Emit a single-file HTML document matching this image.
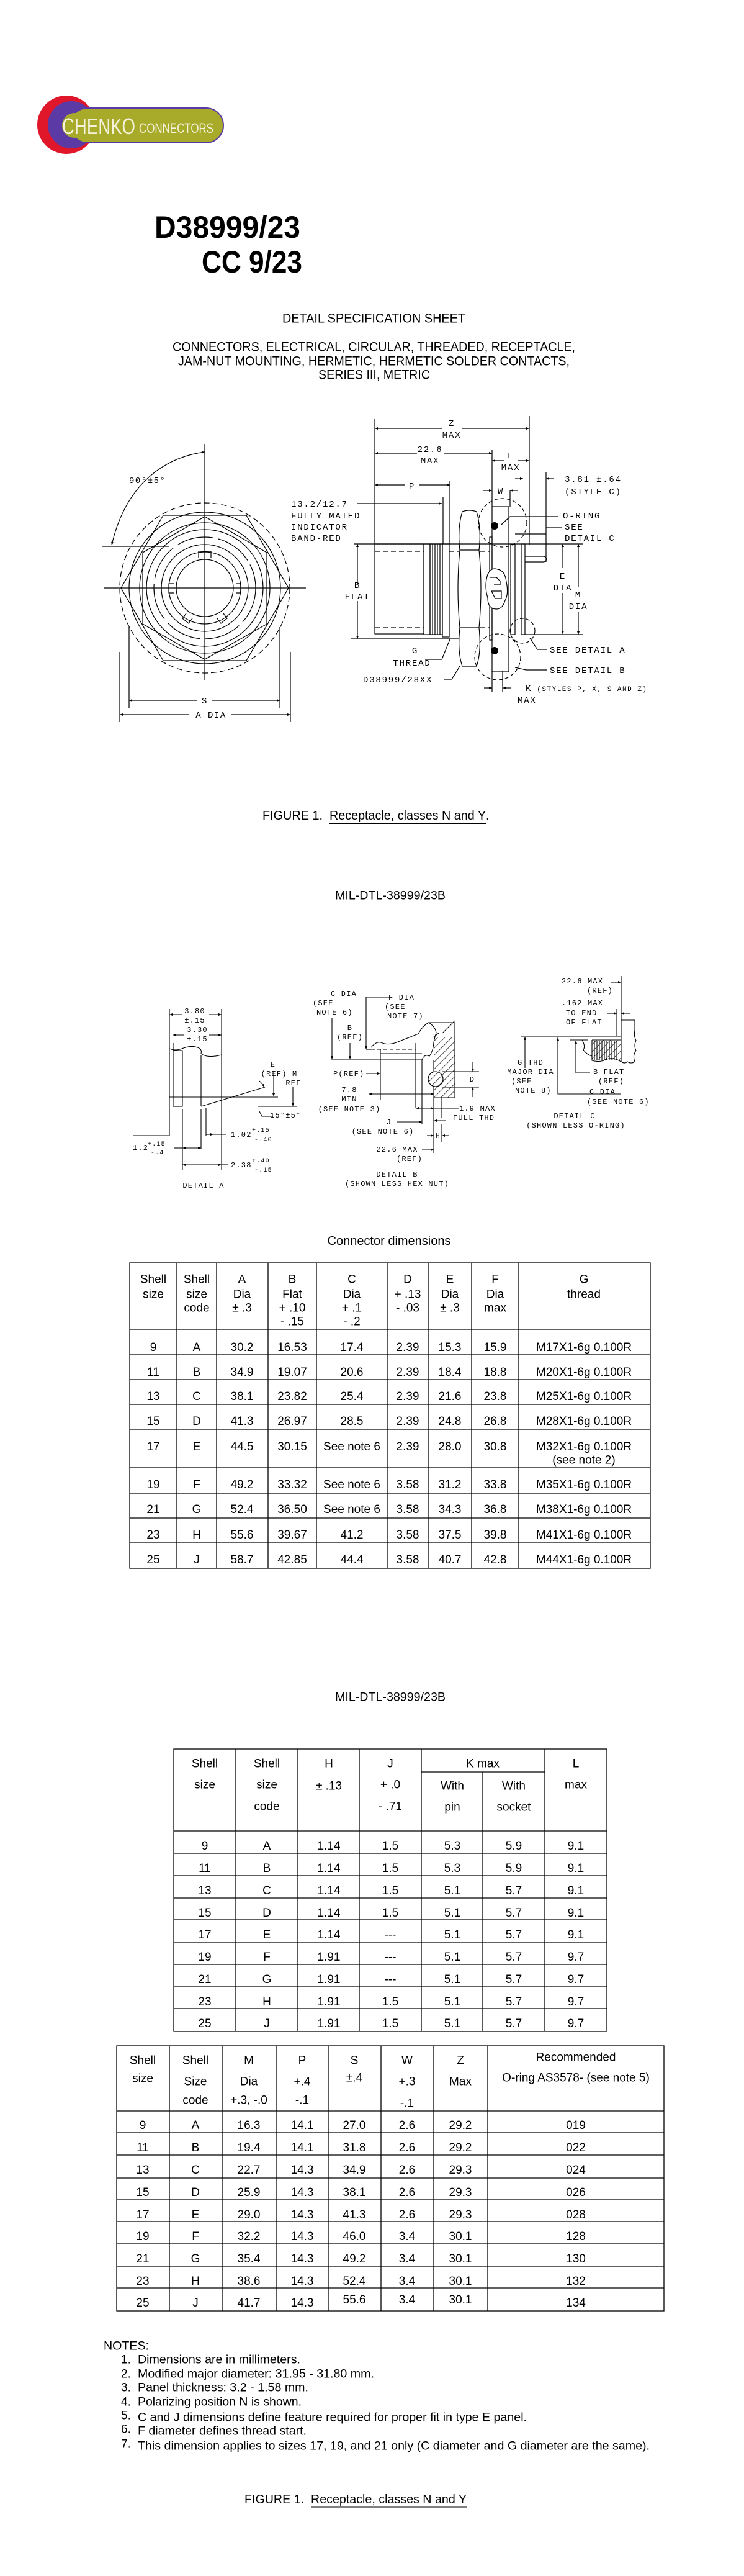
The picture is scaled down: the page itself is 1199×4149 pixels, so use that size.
<!DOCTYPE html>
<html><head><meta charset="utf-8"><style>
html,body{margin:0;padding:0;background:#fff;}
svg{display:block;}
.t{font-family:"Liberation Sans",sans-serif;fill:#000;}
.m{font-family:"Liberation Mono",monospace;fill:#000;}
</style></head><body>
<svg width="1199" height="4149" viewBox="0 0 1199 4149" xmlns="http://www.w3.org/2000/svg">
<defs>
<marker id="a" viewBox="0 0 10 10" refX="10" refY="5" markerWidth="9" markerHeight="5" orient="auto-start-reverse" markerUnits="userSpaceOnUse"><path d="M0,1 L10,5 L0,9z" fill="#000"/></marker>
<pattern id="h" width="8" height="8" patternUnits="userSpaceOnUse" patternTransform="rotate(45)"><line x1="0" y1="0" x2="0" y2="8" stroke="#000" stroke-width="1.4"/></pattern>
</defs>

<!-- LOGO -->
<circle cx="107" cy="201" r="47" fill="#e0162b"/>
<circle cx="115" cy="201" r="38" fill="#5b3aa6"/>
<rect x="113" y="174" width="247" height="56" rx="28" fill="#a8ab2a" stroke="#5b3aa6" stroke-width="2"/>
<circle cx="120" cy="202" r="20" fill="#a8ab2a"/>
<text class="t" x="100" y="216" font-size="36" fill="#f4f2dc" style="fill:#f4f2dc" textLength="118" lengthAdjust="spacingAndGlyphs">CHENKO</text>
<text class="t" x="224" y="214" font-size="22" style="fill:#f4f2dc" textLength="120" lengthAdjust="spacingAndGlyphs">CONNECTORS</text>

<!-- TITLES -->
<text class="t" x="249" y="366" dominant-baseline="central" font-size="50" font-weight="bold" textLength="235" lengthAdjust="spacingAndGlyphs">D38999/23</text>
<text class="t" x="325" y="422" dominant-baseline="central" font-size="50" font-weight="bold" textLength="162" lengthAdjust="spacingAndGlyphs">CC 9/23</text>
<text class="t" x="455" y="513" dominant-baseline="central" font-size="21" textLength="295" lengthAdjust="spacingAndGlyphs">DETAIL SPECIFICATION SHEET</text>
<text class="t" x="278" y="559" dominant-baseline="central" font-size="21" textLength="649" lengthAdjust="spacingAndGlyphs">CONNECTORS, ELECTRICAL, CIRCULAR, THREADED, RECEPTACLE,</text>
<text class="t" x="287" y="582" dominant-baseline="central" font-size="21" textLength="631" lengthAdjust="spacingAndGlyphs">JAM-NUT MOUNTING, HERMETIC, HERMETIC SOLDER CONTACTS,</text>
<text class="t" x="513" y="604" dominant-baseline="central" font-size="21" textLength="180" lengthAdjust="spacingAndGlyphs">SERIES III, METRIC</text>

<!-- FIGURE 1 LEFT VIEW -->
<g fill="none" stroke="#000" stroke-width="1.2">
<circle cx="330" cy="947" r="137" stroke-dasharray="9 5"/>
<circle cx="330" cy="947" r="122"/>
<polygon points="465,947 397,830 263,830 195,947 263,1064 397,1064"/>
<polygon points="330,832 430,890 430,1005 330,1062 230,1005 230,890"/>
<circle cx="330" cy="947" r="105"/>
<circle cx="330" cy="947" r="94"/>
<circle cx="330" cy="947" r="82" stroke-dasharray="60 8"/>
<circle cx="330" cy="947" r="70"/>
<circle cx="330" cy="947" r="58"/>
<circle cx="330" cy="947" r="46"/>
<path d="M320,898 v-10 h20 v10 M280,940 h-8 v15 h8 M380,940 h8 v15 h-8 M300,988 l-6,8 10,8 6,-8 M360,988 l6,8 -10,8 -6,-8"/>
<line x1="330" y1="715" x2="330" y2="1096"/>
<line x1="167" y1="947" x2="493" y2="947"/>
<line x1="165" y1="880" x2="272" y2="880"/>
<line x1="208" y1="1010" x2="208" y2="1140"/>
<line x1="451" y1="1010" x2="451" y2="1140"/>
<line x1="193" y1="1050" x2="193" y2="1163"/>
<line x1="468" y1="1050" x2="468" y2="1163"/>
<path d="M330,728 C255,738 200,790 180,878" marker-start="url(#a)" marker-end="url(#a)"/>
<line x1="208" y1="1128" x2="318" y2="1128" marker-start="url(#a)"/>
<line x1="342" y1="1128" x2="451" y2="1128" marker-end="url(#a)"/>
<line x1="193" y1="1151" x2="305" y2="1151" marker-start="url(#a)"/>
<line x1="372" y1="1151" x2="468" y2="1151" marker-end="url(#a)"/>
</g>
<g class="m" font-size="14" letter-spacing="1.5">
<text x="208" y="778" class="m">90°±5°</text>
<text x="330" y="1133" class="m" text-anchor="middle">S</text>
<text x="340" y="1156" class="m" text-anchor="middle">A DIA</text>
</g>

<!-- FIGURE 1 RIGHT VIEW -->
<g fill="none" stroke="#000" stroke-width="1.2">
<line x1="604" y1="675" x2="604" y2="876"/>
<line x1="853" y1="670" x2="853" y2="878"/>
<line x1="604" y1="690" x2="712" y2="690" marker-start="url(#a)"/>
<line x1="745" y1="690" x2="853" y2="690" marker-end="url(#a)"/>
<line x1="604" y1="730" x2="672" y2="730" marker-start="url(#a)"/>
<line x1="716" y1="730" x2="793" y2="730" marker-end="url(#a)"/>
<line x1="793" y1="725" x2="793" y2="816"/>
<line x1="793" y1="742" x2="812" y2="742" marker-start="url(#a)"/>
<line x1="834" y1="742" x2="853" y2="742" marker-end="url(#a)"/>
<line x1="830" y1="771" x2="843" y2="771" marker-end="url(#a)"/>
<line x1="893" y1="771" x2="880" y2="771" marker-end="url(#a)"/>
<line x1="880" y1="760" x2="880" y2="905"/>
<line x1="604" y1="781" x2="652" y2="781" marker-start="url(#a)"/>
<line x1="676" y1="781" x2="725" y2="781" marker-end="url(#a)"/>
<line x1="725" y1="775" x2="725" y2="876"/>
<line x1="714" y1="800" x2="714" y2="876"/>
<line x1="778" y1="790" x2="793" y2="790" marker-end="url(#a)"/>
<line x1="835" y1="790" x2="822" y2="790" marker-end="url(#a)"/>
<line x1="822" y1="790" x2="822" y2="816"/>
<line x1="575" y1="811" x2="604" y2="811"/>
<line x1="604" y1="811" x2="712" y2="811" marker-end="url(#a)"/>
<!-- body -->
<line x1="570" y1="876" x2="940" y2="876"/>
<line x1="566" y1="1029" x2="740" y2="1029"/>
<rect x="604" y="876" width="79" height="145"/>
<line x1="604" y1="888" x2="683" y2="888" stroke-dasharray="8 5"/>
<line x1="604" y1="1011" x2="683" y2="1011" stroke-dasharray="8 5"/>
<rect x="683" y="876" width="10" height="146"/>
<rect x="693" y="876" width="20" height="146"/>
<path d="M697,876v146M701,876v146M705,876v146M709,876v146"/>
<rect x="713" y="876" width="11" height="150"/>
<line x1="724" y1="888" x2="740" y2="888" stroke-dasharray="8 5"/>
<line x1="773" y1="888" x2="789" y2="888" stroke-dasharray="8 5"/>
<line x1="773" y1="1011" x2="789" y2="1011" stroke-dasharray="8 5"/>
<path d="M745,824 Q756,820 768,824 Q776,850 772,886 Q778,948 772,1011 Q776,1050 768,1073 L745,1073 Q737,1050 741,1011 Q735,948 741,886 Q737,850 745,824Z"/>
<line x1="741" y1="886" x2="772" y2="886"/>
<line x1="741" y1="1011" x2="772" y2="1011"/>
<rect x="789" y="865" width="4" height="166"/>
<rect x="793" y="816" width="27" height="266"/>
<rect x="823" y="877" width="7" height="145"/>
<rect x="840" y="876" width="6" height="146"/>
<path d="M846,896 h30 a4.5,4.5 0 0 1 0,9 h-30"/>
<path d="M786,925 q6,-12 16,-8 q12,2 14,20 q4,20 -2,30 q-4,14 -14,14 q-14,0 -14,-18 q-6,-20 0,-38z" fill="#fff"/>
<path d="M790,930 h10 l6,6 v6 h-10 M792,952 h16 v12 h-10 z"/>
<circle cx="810" cy="842" r="39" stroke-dasharray="6 4"/>
<circle cx="802" cy="1058" r="37" stroke-dasharray="6 4"/>
<circle cx="842" cy="1016" r="20" stroke-dasharray="6 4"/>
<line x1="576" y1="876" x2="576" y2="940" marker-start="url(#a)"/>
<line x1="576" y1="968" x2="576" y2="1029" marker-end="url(#a)"/>
<line x1="907" y1="876" x2="907" y2="915" marker-start="url(#a)"/>
<line x1="907" y1="955" x2="907" y2="1021" marker-end="url(#a)"/>
<line x1="932" y1="876" x2="932" y2="945" marker-start="url(#a)"/>
<line x1="932" y1="985" x2="932" y2="1022" marker-end="url(#a)"/>
<line x1="846" y1="1022" x2="940" y2="1022"/>
<line x1="830" y1="860" x2="880" y2="860"/>
<path d="M808,845 L822,832 H900"/>
<path d="M880,850 H905"/>
<path d="M854,1028 L866,1046 H882"/>
<path d="M830,1075 L848,1079 H882"/>
<path d="M725,1030 L712,1062 H685"/>
<path d="M741,1073 L728,1094 H715"/>
<line x1="793" y1="1081" x2="793" y2="1115"/>
<line x1="810" y1="1081" x2="810" y2="1115"/>
<line x1="780" y1="1108" x2="793" y2="1108" marker-end="url(#a)"/>
<line x1="824" y1="1108" x2="810" y2="1108" marker-end="url(#a)"/>
</g>
<circle cx="797" cy="847" r="6" fill="#000"/>
<circle cx="797" cy="1048" r="6" fill="#000"/>
<g class="m" font-size="14" letter-spacing="1.8">
<text class="m" x="728" y="686" text-anchor="middle">Z</text>
<text class="m" x="728" y="705" text-anchor="middle">MAX</text>
<text class="m" x="693" y="728" text-anchor="middle">22.6</text>
<text class="m" x="693" y="746" text-anchor="middle">MAX</text>
<text class="m" x="823" y="738" text-anchor="middle">L</text>
<text class="m" x="823" y="757" text-anchor="middle">MAX</text>
<text class="m" x="910" y="776">3.81 ±.64</text>
<text class="m" x="910" y="796">(STYLE C)</text>
<text class="m" x="664" y="787" text-anchor="middle">P</text>
<text class="m" x="807" y="795" text-anchor="middle">W</text>
<text class="m" x="469" y="816">13.2/12.7</text>
<text class="m" x="469" y="835">FULLY MATED</text>
<text class="m" x="469" y="853">INDICATOR</text>
<text class="m" x="469" y="871">BAND-RED</text>
<text class="m" x="907" y="835">O-RING</text>
<text class="m" x="910" y="853">SEE</text>
<text class="m" x="910" y="871">DETAIL C</text>
<text class="m" x="576" y="947" text-anchor="middle">B</text>
<text class="m" x="576" y="965" text-anchor="middle">FLAT</text>
<text class="m" x="907" y="932" text-anchor="middle">E</text>
<text class="m" x="907" y="951" text-anchor="middle">DIA</text>
<text class="m" x="932" y="962" text-anchor="middle">M</text>
<text class="m" x="932" y="981" text-anchor="middle">DIA</text>
<text class="m" x="669" y="1052" text-anchor="middle">G</text>
<text class="m" x="664" y="1072" text-anchor="middle">THREAD</text>
<text class="m" x="585" y="1099">D38999/28XX</text>
<text class="m" x="886" y="1051">SEE DETAIL A</text>
<text class="m" x="886" y="1084">SEE DETAIL B</text>
<text class="m" x="847" y="1113">K<tspan font-size="11" letter-spacing="1.5"> (STYLES P, X, S AND Z)</tspan></text>
<text class="m" x="834" y="1132">MAX</text>
</g>

<text class="t" x="423" y="1314" dominant-baseline="central" font-size="20" textLength="97" lengthAdjust="spacingAndGlyphs">FIGURE 1.</text>
<text class="t" x="531" y="1314" dominant-baseline="central" font-size="20" textLength="252" lengthAdjust="spacingAndGlyphs" text-decoration="underline">Receptacle, classes N and Y</text>
<text class="t" x="783" y="1314" dominant-baseline="central" font-size="20">.</text>
<line x1="531" y1="1326" x2="783" y2="1326" stroke="#000" stroke-width="1"/>

<text class="t" x="540" y="1443" dominant-baseline="central" font-size="19" textLength="178" lengthAdjust="spacingAndGlyphs">MIL-DTL-38999/23B</text>

<!-- DETAIL A -->
<g fill="none" stroke="#000" stroke-width="1.1">
<path d="M214,1829 H273 V1687"/>
<path d="M273,1689 q10,4 20,0 q15,-6 25,-2 q8,2 6,10 q10,8 33,2"/>
<rect x="279" y="1692" width="15" height="90"/>
<line x1="324" y1="1700" x2="324" y2="1782"/>
<line x1="324" y1="1786" x2="324" y2="1850"/>
<line x1="357" y1="1702" x2="357" y2="1884"/>
<line x1="332" y1="1784" x2="332" y2="1830"/>
<line x1="294" y1="1786" x2="294" y2="1884"/>
<line x1="273" y1="1767" x2="448" y2="1767"/>
<line x1="324" y1="1782" x2="427" y2="1751"/>
<line x1="416" y1="1782" x2="479" y2="1782"/>
<line x1="279" y1="1680" x2="279" y2="1692"/>
<line x1="273" y1="1625" x2="273" y2="1687"/>
<line x1="357" y1="1625" x2="357" y2="1702"/>
<line x1="273" y1="1634" x2="294" y2="1634" marker-start="url(#a)"/>
<line x1="337" y1="1634" x2="357" y2="1634" marker-end="url(#a)"/>
<line x1="279" y1="1667" x2="296" y2="1667" marker-start="url(#a)"/>
<line x1="337" y1="1667" x2="357" y2="1667" marker-end="url(#a)"/>
<line x1="441" y1="1725" x2="441" y2="1766" marker-end="url(#a)"/>
<line x1="472" y1="1750" x2="472" y2="1781" marker-end="url(#a)"/>
<path d="M418,1741 q6,6 8,10" marker-end="url(#a)"/>
<path d="M418,1790 L422,1798 H440"/>
<line x1="332" y1="1827" x2="344" y2="1827" marker-end="url(#a)"/>
<line x1="344" y1="1827" x2="365" y2="1827"/>
<line x1="280" y1="1849" x2="294" y2="1849"/>
<line x1="294" y1="1849" x2="324" y2="1849" marker-start="url(#a)" marker-end="url(#a)"/>
<line x1="294" y1="1876" x2="357" y2="1876" marker-start="url(#a)" marker-end="url(#a)"/>
<line x1="357" y1="1876" x2="368" y2="1876"/>
</g>
<g class="m" font-size="12" letter-spacing="1.2">
<text class="m" x="314" y="1632" text-anchor="middle">3.80</text>
<text class="m" x="314" y="1647" text-anchor="middle">±.15</text>
<text class="m" x="318" y="1662" text-anchor="middle">3.30</text>
<text class="m" x="318" y="1677" text-anchor="middle">±.15</text>
<text class="m" x="440" y="1718" text-anchor="middle">E</text>
<text class="m" x="450" y="1733" text-anchor="middle">(REF) M</text>
<text class="m" x="473" y="1748" text-anchor="middle">REF</text>
<text class="m" x="435" y="1800">15°±5°</text>
<text class="m" x="372" y="1831">1.02</text>
<text class="m" x="406" y="1823" font-size="10">+.15</text>
<text class="m" x="410" y="1838" font-size="10">-.40</text>
<text class="m" x="214" y="1852">1.2</text>
<text class="m" x="238" y="1845" font-size="10">+.15</text>
<text class="m" x="243" y="1859" font-size="10">-.4</text>
<text class="m" x="372" y="1880">2.38</text>
<text class="m" x="406" y="1872" font-size="10">+.40</text>
<text class="m" x="410" y="1887" font-size="10">-.15</text>
<text class="m" x="328" y="1913" text-anchor="middle">DETAIL A</text>
</g>

<!-- DETAIL B -->
<g fill="none" stroke="#000" stroke-width="1.1">
<line x1="534" y1="1707" x2="680" y2="1707"/>
<path d="M680,1707 q4,-10 12,-6 q6,-8 7,-22 q2,-10 4,-16 q-2,-10 -12,-16 L733,1647 V1768 H699 V1707"/>
<rect x="699" y="1670" width="34" height="98" fill="url(#h)" stroke="none"/>
<path d="M699,1670 l8,-6 M713,1664 l20,-20"/>
<path d="M598,1687 q8,-10 16,-8 q12,6 30,-2 q20,-8 30,-12 q8,-14 17,-18"/>
<line x1="598" y1="1690" x2="670" y2="1690" stroke-dasharray="6 4"/>
<line x1="613" y1="1697" x2="680" y2="1697"/>
<line x1="613" y1="1690" x2="613" y2="1772"/>
<line x1="670" y1="1680" x2="670" y2="1785"/>
<line x1="680" y1="1707" x2="680" y2="1810"/>
<line x1="699" y1="1768" x2="699" y2="1857"/>
<line x1="712" y1="1768" x2="712" y2="1800"/>
<circle cx="702" cy="1738" r="12" fill="#fff"/>
<circle cx="702" cy="1738" r="12" fill="url(#h)"/>
<path d="M712,1726 H772 M712,1751 H772"/>
<line x1="762" y1="1710" x2="762" y2="1726" marker-end="url(#a)"/>
<line x1="762" y1="1767" x2="762" y2="1751" marker-end="url(#a)"/>
<line x1="535" y1="1640" x2="535" y2="1706" marker-end="url(#a)"/>
<line x1="564" y1="1680" x2="564" y2="1706" marker-end="url(#a)"/>
<path d="M629,1606 H590 V1690" marker-end="url(#a)"/>
<line x1="590" y1="1690" x2="598" y2="1690"/>
<line x1="590" y1="1729" x2="613" y2="1729" marker-end="url(#a)"/>
<line x1="594" y1="1762" x2="613" y2="1762" marker-start="url(#a)"/>
<line x1="613" y1="1762" x2="699" y2="1762" marker-end="url(#a)"/>
<line x1="670" y1="1785" x2="699" y2="1785" marker-start="url(#a)" marker-end="url(#a)"/>
<line x1="699" y1="1785" x2="740" y2="1785"/>
<line x1="640" y1="1807" x2="680" y2="1807" marker-end="url(#a)"/>
<line x1="718" y1="1805" x2="699" y2="1805" marker-end="url(#a)"/>
<line x1="688" y1="1829" x2="699" y2="1829" marker-end="url(#a)"/>
<line x1="724" y1="1829" x2="712" y2="1829" marker-end="url(#a)"/>
<line x1="712" y1="1810" x2="712" y2="1840"/>
<line x1="680" y1="1852" x2="699" y2="1852" marker-end="url(#a)"/>
</g>
<g class="m" font-size="12" letter-spacing="1.2">
<text class="m" x="533" y="1604">C DIA</text>
<text class="m" x="504" y="1619">(SEE</text>
<text class="m" x="510" y="1634">NOTE 6)</text>
<text class="m" x="626" y="1610">F DIA</text>
<text class="m" x="620" y="1625">(SEE</text>
<text class="m" x="624" y="1640">NOTE 7)</text>
<text class="m" x="564" y="1659" text-anchor="middle">B</text>
<text class="m" x="564" y="1674" text-anchor="middle">(REF)</text>
<text class="m" x="537" y="1733">P(REF)</text>
<text class="m" x="563" y="1759" text-anchor="middle">7.8</text>
<text class="m" x="563" y="1774" text-anchor="middle">MIN</text>
<text class="m" x="563" y="1790" text-anchor="middle">(SEE NOTE 3)</text>
<text class="m" x="740" y="1789">1.9 MAX</text>
<text class="m" x="730" y="1804">FULL THD</text>
<text class="m" x="627" y="1811" text-anchor="middle">J</text>
<text class="m" x="617" y="1826" text-anchor="middle">(SEE NOTE 6)</text>
<text class="m" x="761" y="1742" text-anchor="middle">D</text>
<text class="m" x="706" y="1833" text-anchor="middle">H</text>
<text class="m" x="640" y="1855" text-anchor="middle">22.6 MAX</text>
<text class="m" x="660" y="1870" text-anchor="middle">(REF)</text>
<text class="m" x="640" y="1895" text-anchor="middle">DETAIL B</text>
<text class="m" x="640" y="1910" text-anchor="middle">(SHOWN LESS HEX NUT)</text>
</g>

<!-- DETAIL C -->
<g fill="none" stroke="#000" stroke-width="1.1">
<line x1="839" y1="1670" x2="1001" y2="1670"/>
<path d="M1001,1572 V1710 q6,4 10,0 q6,4 12,0 q-4,-10 2,-18 q-4,-8 0,-16 q-4,-8 -2,-16 V1643 H1001"/>
<rect x="954" y="1675" width="47" height="33" fill="url(#h)" stroke="none"/>
<path d="M954,1675 H1001 M954,1675 V1708 q12,4 24,-2 q10,-4 23,4"/>
<path d="M958,1676v32M962,1676v32M966,1676v32M970,1676v32M974,1676v32M978,1676v32M982,1676v32M986,1676v32M990,1676v32M994,1676v32"/>
<path d="M938,1675 q6,10 2,16 q6,8 14,10"/>
<line x1="918" y1="1675" x2="948" y2="1675"/>
<line x1="994" y1="1625" x2="994" y2="1668"/>
<line x1="978" y1="1632" x2="994" y2="1632" marker-end="url(#a)"/>
<line x1="1015" y1="1632" x2="1001" y2="1632" marker-end="url(#a)"/>
<line x1="985" y1="1582" x2="1001" y2="1582" marker-end="url(#a)"/>
<line x1="846" y1="1720" x2="846" y2="1670" marker-end="url(#a)"/>
<path d="M1000,1762 H899 V1671" marker-end="url(#a)"/>
<path d="M951,1728 H928 V1676" marker-end="url(#a)"/>
</g>
<g class="m" font-size="12" letter-spacing="1.2">
<text class="m" x="905" y="1584">22.6 MAX</text>
<text class="m" x="946" y="1599">(REF)</text>
<text class="m" x="905" y="1619">.162 MAX</text>
<text class="m" x="912" y="1635">TO END</text>
<text class="m" x="912" y="1650">OF FLAT</text>
<text class="m" x="855" y="1715" text-anchor="middle">G THD</text>
<text class="m" x="855" y="1730" text-anchor="middle">MAJOR DIA</text>
<text class="m" x="824" y="1745">(SEE</text>
<text class="m" x="830" y="1760">NOTE 8)</text>
<text class="m" x="956" y="1730">B FLAT</text>
<text class="m" x="964" y="1745">(REF)</text>
<text class="m" x="950" y="1762">C DIA</text>
<text class="m" x="946" y="1778">(SEE NOTE 6)</text>
<text class="m" x="926" y="1801" text-anchor="middle">DETAIL C</text>
<text class="m" x="928" y="1816" text-anchor="middle">(SHOWN LESS O-RING)</text>
</g>

<text class="t" x="627" y="1999" dominant-baseline="central" text-anchor="middle" font-size="20">Connector dimensions</text>

<!-- TABLE 1 -->
<g stroke="#000" stroke-width="1.3" fill="none">
<rect x="209" y="2034" width="839" height="492"/>
<path d="M285,2034V2526M349,2034V2526M432,2034V2526M510,2034V2526M624,2034V2526M691,2034V2526M760,2034V2526M835,2034V2526"/>
<path d="M209,2141H1048M209,2182H1048M209,2222H1048M209,2262H1048M209,2302H1048M209,2364H1048M209,2405H1048M209,2445H1048M209,2485H1048"/>
</g>
<g class="t" font-size="19" text-anchor="middle" dominant-baseline="central">
<text class="t" x="247" y="2061">Shell</text><text class="t" x="247" y="2085">size</text>
<text class="t" x="317" y="2061">Shell</text><text class="t" x="317" y="2085">size</text><text class="t" x="317" y="2107">code</text>
<text class="t" x="390" y="2061">A</text><text class="t" x="390" y="2085">Dia</text><text class="t" x="390" y="2107">± .3</text>
<text class="t" x="471" y="2061">B</text><text class="t" x="471" y="2085">Flat</text><text class="t" x="471" y="2107">+ .10</text><text class="t" x="471" y="2129">- .15</text>
<text class="t" x="567" y="2061">C</text><text class="t" x="567" y="2085">Dia</text><text class="t" x="567" y="2107">+ .1</text><text class="t" x="567" y="2129">- .2</text>
<text class="t" x="657" y="2061">D</text><text class="t" x="657" y="2085">+ .13</text><text class="t" x="657" y="2107">- .03</text>
<text class="t" x="725" y="2061">E</text><text class="t" x="725" y="2085">Dia</text><text class="t" x="725" y="2107">± .3</text>
<text class="t" x="798" y="2061">F</text><text class="t" x="798" y="2085">Dia</text><text class="t" x="798" y="2107">max</text>
<text class="t" x="941" y="2061">G</text><text class="t" x="941" y="2085">thread</text>
</g>
<g class="t" font-size="19" text-anchor="middle" dominant-baseline="central">
<text class="t" y="2170"><tspan x="247">9</tspan><tspan x="317">A</tspan><tspan x="390">30.2</tspan><tspan x="471">16.53</tspan><tspan x="567">17.4</tspan><tspan x="657">2.39</tspan><tspan x="725">15.3</tspan><tspan x="798">15.9</tspan><tspan x="941">M17X1-6g 0.100R</tspan></text>
<text class="t" y="2210"><tspan x="247">11</tspan><tspan x="317">B</tspan><tspan x="390">34.9</tspan><tspan x="471">19.07</tspan><tspan x="567">20.6</tspan><tspan x="657">2.39</tspan><tspan x="725">18.4</tspan><tspan x="798">18.8</tspan><tspan x="941">M20X1-6g 0.100R</tspan></text>
<text class="t" y="2249"><tspan x="247">13</tspan><tspan x="317">C</tspan><tspan x="390">38.1</tspan><tspan x="471">23.82</tspan><tspan x="567">25.4</tspan><tspan x="657">2.39</tspan><tspan x="725">21.6</tspan><tspan x="798">23.8</tspan><tspan x="941">M25X1-6g 0.100R</tspan></text>
<text class="t" y="2289"><tspan x="247">15</tspan><tspan x="317">D</tspan><tspan x="390">41.3</tspan><tspan x="471">26.97</tspan><tspan x="567">28.5</tspan><tspan x="657">2.39</tspan><tspan x="725">24.8</tspan><tspan x="798">26.8</tspan><tspan x="941">M28X1-6g 0.100R</tspan></text>
<text class="t" y="2330"><tspan x="247">17</tspan><tspan x="317">E</tspan><tspan x="390">44.5</tspan><tspan x="471">30.15</tspan><tspan x="567">See note 6</tspan><tspan x="657">2.39</tspan><tspan x="725">28.0</tspan><tspan x="798">30.8</tspan><tspan x="941">M32X1-6g 0.100R</tspan></text>
<text class="t" x="941" y="2352">(see note 2)</text>
<text class="t" y="2391"><tspan x="247">19</tspan><tspan x="317">F</tspan><tspan x="390">49.2</tspan><tspan x="471">33.32</tspan><tspan x="567">See note 6</tspan><tspan x="657">3.58</tspan><tspan x="725">31.2</tspan><tspan x="798">33.8</tspan><tspan x="941">M35X1-6g 0.100R</tspan></text>
<text class="t" y="2431"><tspan x="247">21</tspan><tspan x="317">G</tspan><tspan x="390">52.4</tspan><tspan x="471">36.50</tspan><tspan x="567">See note 6</tspan><tspan x="657">3.58</tspan><tspan x="725">34.3</tspan><tspan x="798">36.8</tspan><tspan x="941">M38X1-6g 0.100R</tspan></text>
<text class="t" y="2472"><tspan x="247">23</tspan><tspan x="317">H</tspan><tspan x="390">55.6</tspan><tspan x="471">39.67</tspan><tspan x="567">41.2</tspan><tspan x="657">3.58</tspan><tspan x="725">37.5</tspan><tspan x="798">39.8</tspan><tspan x="941">M41X1-6g 0.100R</tspan></text>
<text class="t" y="2512"><tspan x="247">25</tspan><tspan x="317">J</tspan><tspan x="390">58.7</tspan><tspan x="471">42.85</tspan><tspan x="567">44.4</tspan><tspan x="657">3.58</tspan><tspan x="725">40.7</tspan><tspan x="798">42.8</tspan><tspan x="941">M44X1-6g 0.100R</tspan></text>
</g>

<text class="t" x="540" y="2734" dominant-baseline="central" font-size="19" textLength="178" lengthAdjust="spacingAndGlyphs">MIL-DTL-38999/23B</text>

<!-- TABLE 2 -->
<g stroke="#000" stroke-width="1.3" fill="none">
<rect x="280" y="2817" width="698" height="455"/>
<path d="M380,2817V3272M480,2817V3272M579,2817V3272M679,2817V3272M778,2854V3272M878,2817V3272"/>
<path d="M679,2854H878M280,2949H978M280,2985H978M280,3021H978M280,3057H978M280,3092H978M280,3129H978M280,3164H978M280,3200H978M280,3235H978"/>
</g>
<g class="t" font-size="19" text-anchor="middle" dominant-baseline="central">
<text class="t" x="330" y="2841">Shell</text><text class="t" x="330" y="2875">size</text>
<text class="t" x="430" y="2841">Shell</text><text class="t" x="430" y="2875">size</text><text class="t" x="430" y="2910">code</text>
<text class="t" x="530" y="2841">H</text><text class="t" x="530" y="2877">± .13</text>
<text class="t" x="629" y="2841">J</text><text class="t" x="629" y="2875">+ .0</text><text class="t" x="629" y="2910">- .71</text>
<text class="t" x="778" y="2841">K max</text>
<text class="t" x="729" y="2877">With</text><text class="t" x="729" y="2911">pin</text>
<text class="t" x="828" y="2877">With</text><text class="t" x="828" y="2911">socket</text>
<text class="t" x="928" y="2841">L</text><text class="t" x="928" y="2875">max</text>
<text class="t" y="2973"><tspan x="330">9</tspan><tspan x="430">A</tspan><tspan x="530">1.14</tspan><tspan x="629">1.5</tspan><tspan x="729">5.3</tspan><tspan x="828">5.9</tspan><tspan x="928">9.1</tspan></text>
<text class="t" y="3009"><tspan x="330">11</tspan><tspan x="430">B</tspan><tspan x="530">1.14</tspan><tspan x="629">1.5</tspan><tspan x="729">5.3</tspan><tspan x="828">5.9</tspan><tspan x="928">9.1</tspan></text>
<text class="t" y="3045"><tspan x="330">13</tspan><tspan x="430">C</tspan><tspan x="530">1.14</tspan><tspan x="629">1.5</tspan><tspan x="729">5.1</tspan><tspan x="828">5.7</tspan><tspan x="928">9.1</tspan></text>
<text class="t" y="3081"><tspan x="330">15</tspan><tspan x="430">D</tspan><tspan x="530">1.14</tspan><tspan x="629">1.5</tspan><tspan x="729">5.1</tspan><tspan x="828">5.7</tspan><tspan x="928">9.1</tspan></text>
<text class="t" y="3116"><tspan x="330">17</tspan><tspan x="430">E</tspan><tspan x="530">1.14</tspan><tspan x="629">---</tspan><tspan x="729">5.1</tspan><tspan x="828">5.7</tspan><tspan x="928">9.1</tspan></text>
<text class="t" y="3152"><tspan x="330">19</tspan><tspan x="430">F</tspan><tspan x="530">1.91</tspan><tspan x="629">---</tspan><tspan x="729">5.1</tspan><tspan x="828">5.7</tspan><tspan x="928">9.7</tspan></text>
<text class="t" y="3188"><tspan x="330">21</tspan><tspan x="430">G</tspan><tspan x="530">1.91</tspan><tspan x="629">---</tspan><tspan x="729">5.1</tspan><tspan x="828">5.7</tspan><tspan x="928">9.7</tspan></text>
<text class="t" y="3224"><tspan x="330">23</tspan><tspan x="430">H</tspan><tspan x="530">1.91</tspan><tspan x="629">1.5</tspan><tspan x="729">5.1</tspan><tspan x="828">5.7</tspan><tspan x="928">9.7</tspan></text>
<text class="t" y="3259"><tspan x="330">25</tspan><tspan x="430">J</tspan><tspan x="530">1.91</tspan><tspan x="629">1.5</tspan><tspan x="729">5.1</tspan><tspan x="828">5.7</tspan><tspan x="928">9.7</tspan></text>
</g>

<!-- TABLE 3 -->
<g stroke="#000" stroke-width="1.3" fill="none">
<rect x="188" y="3295" width="882" height="427"/>
<path d="M273,3295V3722M358,3295V3722M445,3295V3722M529,3295V3722M614,3295V3722M699,3295V3722M786,3295V3722"/>
<path d="M188,3400H1070M188,3435H1070M188,3471H1070M188,3508H1070M188,3542H1070M188,3578H1070M188,3614H1070M188,3651H1070M188,3685H1070"/>
</g>
<g class="t" font-size="19" text-anchor="middle" dominant-baseline="central">
<text class="t" x="230" y="3319">Shell</text><text class="t" x="230" y="3348">size</text>
<text class="t" x="315" y="3319">Shell</text><text class="t" x="315" y="3353">Size</text><text class="t" x="315" y="3383">code</text>
<text class="t" x="401" y="3319">M</text><text class="t" x="401" y="3353">Dia</text><text class="t" x="401" y="3383">+.3, -.0</text>
<text class="t" x="487" y="3319">P</text><text class="t" x="487" y="3353">+.4</text><text class="t" x="487" y="3383">-.1</text>
<text class="t" x="571" y="3319">S</text><text class="t" x="571" y="3347">±.4</text>
<text class="t" x="656" y="3319">W</text><text class="t" x="656" y="3353">+.3</text><text class="t" x="656" y="3388">-.1</text>
<text class="t" x="742" y="3319">Z</text><text class="t" x="742" y="3353">Max</text>
<text class="t" x="928" y="3314">Recommended</text><text class="t" x="928" y="3347">O-ring AS3578- (see note 5)</text>
<text class="t" y="3423"><tspan x="230">9</tspan><tspan x="315">A</tspan><tspan x="401">16.3</tspan><tspan x="487">14.1</tspan><tspan x="571">27.0</tspan><tspan x="656">2.6</tspan><tspan x="742">29.2</tspan><tspan x="928">019</tspan></text>
<text class="t" y="3459"><tspan x="230">11</tspan><tspan x="315">B</tspan><tspan x="401">19.4</tspan><tspan x="487">14.1</tspan><tspan x="571">31.8</tspan><tspan x="656">2.6</tspan><tspan x="742">29.2</tspan><tspan x="928">022</tspan></text>
<text class="t" y="3495"><tspan x="230">13</tspan><tspan x="315">C</tspan><tspan x="401">22.7</tspan><tspan x="487">14.3</tspan><tspan x="571">34.9</tspan><tspan x="656">2.6</tspan><tspan x="742">29.3</tspan><tspan x="928">024</tspan></text>
<text class="t" y="3531"><tspan x="230">15</tspan><tspan x="315">D</tspan><tspan x="401">25.9</tspan><tspan x="487">14.3</tspan><tspan x="571">38.1</tspan><tspan x="656">2.6</tspan><tspan x="742">29.3</tspan><tspan x="928">026</tspan></text>
<text class="t" y="3567"><tspan x="230">17</tspan><tspan x="315">E</tspan><tspan x="401">29.0</tspan><tspan x="487">14.3</tspan><tspan x="571">41.3</tspan><tspan x="656">2.6</tspan><tspan x="742">29.3</tspan><tspan x="928">028</tspan></text>
<text class="t" y="3602"><tspan x="230">19</tspan><tspan x="315">F</tspan><tspan x="401">32.2</tspan><tspan x="487">14.3</tspan><tspan x="571">46.0</tspan><tspan x="656">3.4</tspan><tspan x="742">30.1</tspan><tspan x="928">128</tspan></text>
<text class="t" y="3638"><tspan x="230">21</tspan><tspan x="315">G</tspan><tspan x="401">35.4</tspan><tspan x="487">14.3</tspan><tspan x="571">49.2</tspan><tspan x="656">3.4</tspan><tspan x="742">30.1</tspan><tspan x="928">130</tspan></text>
<text class="t" y="3674"><tspan x="230">23</tspan><tspan x="315">H</tspan><tspan x="401">38.6</tspan><tspan x="487">14.3</tspan><tspan x="571">52.4</tspan><tspan x="656">3.4</tspan><tspan x="742">30.1</tspan><tspan x="928">132</tspan></text>
<text class="t" y="3709"><tspan x="230">25</tspan><tspan x="315">J</tspan><tspan x="401">41.7</tspan><tspan x="487">14.3</tspan><tspan x="928">134</tspan></text>
<text class="t" y="3704"><tspan x="571">55.6</tspan><tspan x="656">3.4</tspan><tspan x="742">30.1</tspan></text>
</g>

<!-- NOTES -->
<g class="t" font-size="19" dominant-baseline="central">
<text class="t" x="167" y="3779" textLength="73" lengthAdjust="spacingAndGlyphs">NOTES:</text>
<text class="t" x="195" y="3801">1.</text><text class="t" x="222" y="3801" textLength="262" lengthAdjust="spacingAndGlyphs">Dimensions are in millimeters.</text>
<text class="t" x="195" y="3824">2.</text><text class="t" x="222" y="3824" textLength="381" lengthAdjust="spacingAndGlyphs">Modified major diameter: 31.95 - 31.80 mm.</text>
<text class="t" x="195" y="3846">3.</text><text class="t" x="222" y="3846" textLength="275" lengthAdjust="spacingAndGlyphs">Panel thickness: 3.2 - 1.58 mm.</text>
<text class="t" x="195" y="3869">4.</text><text class="t" x="222" y="3869" textLength="264" lengthAdjust="spacingAndGlyphs">Polarizing position N is shown.</text>
<text class="t" x="195" y="3891">5.</text><text class="t" x="222" y="3894" textLength="627" lengthAdjust="spacingAndGlyphs">C and J dimensions define feature required for proper fit in type E panel.</text>
<text class="t" x="195" y="3913">6.</text><text class="t" x="222" y="3916" textLength="272" lengthAdjust="spacingAndGlyphs">F diameter defines thread start.</text>
<text class="t" x="195" y="3937">7.</text><text class="t" x="222" y="3940" textLength="825" lengthAdjust="spacingAndGlyphs">This dimension applies to sizes 17, 19, and 21 only (C diameter and G diameter are the same).</text>
</g>

<text class="t" x="394" y="4026" dominant-baseline="central" font-size="20" textLength="96" lengthAdjust="spacingAndGlyphs">FIGURE 1.</text>
<text class="t" x="501" y="4026" dominant-baseline="central" font-size="20" textLength="251" lengthAdjust="spacingAndGlyphs">Receptacle, classes N and Y</text>
<line x1="501" y1="4038" x2="752" y2="4038" stroke="#000" stroke-width="1"/>
</svg>
</body></html>
